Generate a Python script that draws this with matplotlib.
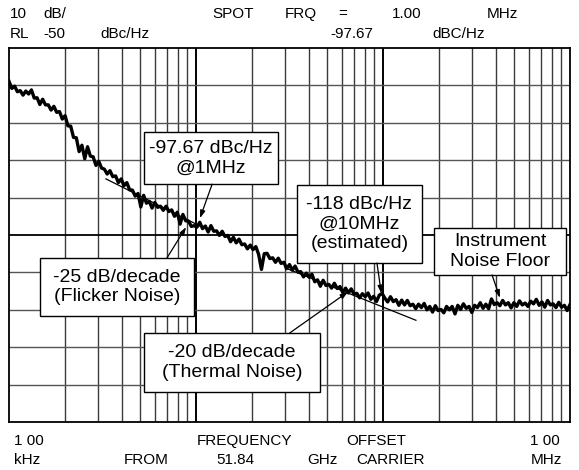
import numpy as np
import matplotlib
matplotlib.use("Agg")
import matplotlib.pyplot as plt
from matplotlib.patches import Rectangle

plt.rcParams['font.family'] = ['Liberation Sans', 'DejaVu Sans']

# ---- measurement data -------------------------------------------------------
sweep_start_hz = 1e5
sweep_stop_hz = 1e8

# single-sideband phase noise, dBc/Hz, one value per sweep point (log spaced)
phase_noise_dbc = [
    -58.9, -60.8, -60.2, -61.7, -61.4, -62.6, -61.5, -62.3, -61.2, -63.4,
    -63.3, -65.1, -63.7, -65.2, -65.2, -66.6, -65.6, -67.2, -67.0, -69.0,
    -68.1, -70.8, -70.9, -73.9, -74.0, -77.7, -76.0, -79.6, -76.4, -78.9,
    -79.1, -81.4, -80.3, -82.1, -82.4, -83.7, -82.8, -84.4, -84.2, -86.0,
    -85.0, -86.8, -86.0, -87.9, -88.0, -89.6, -88.9, -92.5, -89.4, -91.5,
    -91.0, -92.8, -91.3, -92.6, -92.3, -93.4, -92.3, -93.7, -93.3, -95.0,
    -93.9, -97.1, -94.5, -96.2, -96.3, -97.7, -97.5, -97.9, -96.6, -98.3,
    -97.6, -99.2, -97.5, -99.0, -98.9, -100.1, -99.0, -100.4, -100.1, -101.8,
    -100.6, -102.1, -101.1, -102.6, -102.4, -103.7, -102.7, -103.9, -103.1, -105.2,
    -109.2, -105.0, -104.9, -106.3, -106.1, -107.3, -106.2, -107.6, -107.3, -109.0,
    -107.9, -109.4, -108.3, -109.9, -109.8, -111.2, -110.2, -111.3, -110.5, -112.5,
    -112.0, -113.7, -112.1, -113.5, -113.2, -114.2, -112.9, -114.3, -113.8, -115.4,
    -114.2, -115.5, -114.4, -115.8, -115.6, -116.8, -115.7, -116.5, -115.5, -117.2,
    -116.4, -117.8, -116.1, -115.6, -116.9, -117.9, -116.5, -117.8, -117.3, -118.8,
    -117.4, -118.7, -117.5, -118.9, -118.5, -119.7, -118.5, -119.4, -118.3, -120.0,
    -119.1, -120.6, -118.9, -120.2, -119.9, -120.8, -119.1, -120.0, -119.1, -121.1,
    -118.8, -119.9, -118.4, -119.6, -119.1, -120.7, -118.8, -119.4, -118.1, -119.6,
    -118.5, -119.7, -117.1, -118.6, -118.1, -118.9, -117.5, -118.7, -118.1, -119.5,
    -118.1, -119.1, -117.6, -118.7, -118.2, -119.1, -117.7, -118.4, -117.2, -118.8,
    -117.9, -119.3, -117.5, -118.7, -118.4, -119.4, -118.0, -119.3, -118.8, -120.2,
    -118.6,
]

# asymptote lines
flicker_f = [3.3e5, 1.1e6]
flicker_db = [-85.0, -98.1]
thermal_f = [3.0e6, 1.5e7]
thermal_db = [-108.8, -122.8]

# display settings
ref_level_db = -50
db_per_div = 10
n_div = 10

# ---- figure -----------------------------------------------------------------
W, H = 579, 470
fig = plt.figure(figsize=(W / 100, H / 100), dpi=100)
ax = fig.add_axes([9 / W, 1 - 422 / H, 561 / W, 374 / H])

freqs = np.logspace(np.log10(sweep_start_hz), np.log10(sweep_stop_hz),
                    len(phase_noise_dbc))

ax.set_xscale('log')
ax.set_xlim(sweep_start_hz, sweep_stop_hz)
ax.set_ylim(ref_level_db - n_div * db_per_div, ref_level_db)
ax.set_xticks([])
ax.set_yticks([])
ax.minorticks_off()
for s in ax.spines.values():
    s.set_linewidth(1.3)
    s.set_color('black')

# graticule
for dec in [1e5, 1e6, 1e7]:
    for m in range(2, 10):
        ax.axvline(dec * m, color='#3a3a3a', lw=1.0, zorder=1)
for dec in [1e6, 1e7]:
    ax.axvline(dec, color='black', lw=1.4, zorder=1)
for k in range(1, n_div):
    lvl = ref_level_db - k * db_per_div
    mid = (k == n_div // 2)
    ax.axhline(lvl, color='black' if mid else '#555555',
               lw=1.3 if mid else 1.0, zorder=1)

# asymptotes
ax.plot(flicker_f, flicker_db, color='black', lw=0.9, zorder=2)
ax.plot(thermal_f, thermal_db, color='black', lw=0.9, zorder=2)

# trace
ax.plot(freqs, phase_noise_dbc, color='black', lw=2.4, zorder=3)

# ---- callouts ---------------------------------------------------------------
callouts = [
    dict(text='-97.67 dBc/Hz\n@1MHz', box=(5.27e5, 2.75e6, -72.5, -86.4),
         start=(1.22e6, -86.4), end=(1.05e6, -95.5)),
    dict(text='-118 dBc/Hz\n@10MHz\n(estimated)', box=(3.48e6, 1.61e7, -86.6, -107.5),
         start=(9.28e6, -107.5), end=(9.8e6, -115.6)),
    dict(text='Instrument\nNoise Floor', box=(1.87e7, 9.54e7, -98.1, -110.7),
         start=(3.83e7, -110.7), end=(4.22e7, -116.8)),
    dict(text='-25 dB/decade\n(Flicker Noise)', box=(1.465e5, 9.76e5, -106.1, -121.7),
         start=(7.0e5, -106.1), end=(8.85e5, -97.9)),
    dict(text='-20 dB/decade\n(Thermal Noise)', box=(5.27e5, 4.61e6, -126.2, -142.0),
         start=(3.17e6, -126.2), end=(6.5e6, -115.2)),
]
for c in callouts:
    f0, f1, top, bot = c['box']
    ax.add_patch(Rectangle((f0, bot), f1 - f0, top - bot, facecolor='white',
                           edgecolor='black', lw=1.0, zorder=5))
    ax.text(np.sqrt(f0 * f1), (top + bot) / 2, c['text'], ha='center',
            va='center', fontsize=14, linespacing=1.2, zorder=6)
    ax.annotate('', xy=c['end'], xytext=c['start'],
                arrowprops=dict(arrowstyle='-|>,head_length=0.45,head_width=0.15',
                                color='black', lw=0.9, shrinkA=0, shrinkB=0),
                zorder=6)

# ---- instrument annotations ---------------------------------------------------
header = [
    (10, 14, '10'), (43, 14, 'dB/'), (212, 14, 'SPOT'), (285, 14, 'FRQ'),
    (338, 14, '='), (392, 14, '1.00'), (487, 14, 'MHz'),
    (10, 34, 'RL'), (43, 34, '-50'), (100, 34, 'dBc/Hz'), (330, 34, '-97.67'),
    (432, 34, 'dBC/Hz'),
    (14, 441, '1 00'), (197, 441, 'FREQUENCY'), (346, 441, 'OFFSET'),
    (530, 441, '1 00'),
    (14, 460, 'kHz'), (124, 460, 'FROM'), (216, 460, '51.84'), (307, 460, 'GHz'),
    (356, 460, 'CARRIER'), (531, 460, 'MHz'),
]
for px, py, t in header:
    fig.text(px / W, 1 - py / H, t, ha='left', va='center', fontsize=11)

fig.savefig('out.png', dpi=100, facecolor='white')
